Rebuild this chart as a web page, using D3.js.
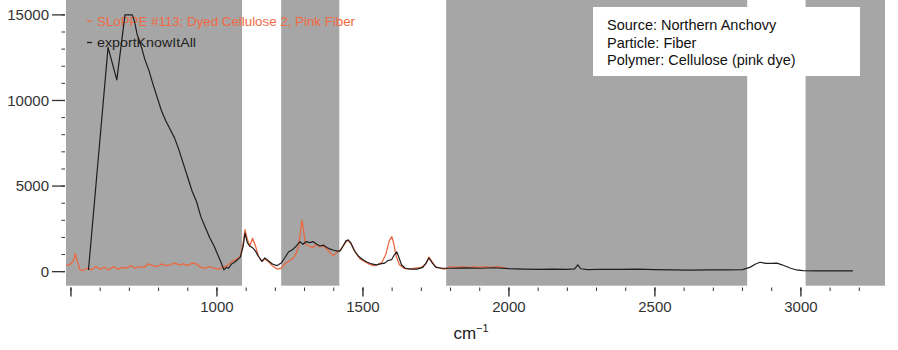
<!DOCTYPE html>
<html><head><meta charset="utf-8">
<script src="https://cdn.jsdelivr.net/npm/d3@7/dist/d3.min.js"></script>
<style>body{margin:0;background:#fff}svg{display:block}text{font-family:"Liberation Sans",Arial,sans-serif}</style>
</head><body><svg id="c" width="898" height="350"></svg>
<script>
// Spectrum 1: SLoPPE #113 (orange) — [wavenumber, intensity]
const sloppeWave = [485,500,510,515,522,530,540,555,570,585,600,615,630,645,660,675,690,705,720,735,750,765,780,795,810,825,840,855,870,885,900,915,930,945,960,975,990,1005,1020,1035,1050,1065,1080,1090,1096,1104,1112,1122,1132,1142,1154,1164,1175,1190,1205,1220,1235,1250,1262,1272,1280,1286,1291,1296,1303,1315,1328,1340,1352,1365,1378,1390,1400,1412,1425,1440,1449,1460,1475,1490,1505,1520,1535,1550,1565,1578,1590,1599,1606,1614,1625,1640,1660,1680,1700,1715,1726,1736,1748,1765,1780,1800,1820,1840,1860,1880,1900,1920,1940,1960,1975,1990];
const sloppeVal = [350,450,700,1050,600,150,50,200,100,300,150,250,100,300,150,250,200,350,200,300,250,450,350,300,450,350,400,500,400,450,350,500,450,250,200,300,200,150,250,350,600,700,900,1700,2450,1900,1500,1950,1500,900,600,750,600,350,150,200,500,650,800,1100,1500,2300,3000,2500,1600,1500,1400,1600,1450,1500,1300,1050,950,1150,1300,1700,1850,1600,1100,750,600,450,350,400,550,1000,1800,2050,1600,900,400,200,150,200,250,450,850,600,300,200,150,300,250,300,250,300,250,300,250,300,250,200];
// Spectrum 2: exportKnowItAll (black)
const knowWave = [560,627,657,685,710,718,726,740,753,768,780,795,810,825,840,855,870,885,900,915,930,945,960,975,990,1005,1015,1024,1032,1040,1050,1060,1070,1080,1090,1096,1104,1112,1122,1132,1142,1154,1164,1175,1190,1205,1220,1232,1245,1260,1272,1284,1295,1305,1318,1330,1342,1353,1365,1378,1390,1400,1412,1421,1432,1442,1449,1458,1470,1485,1500,1515,1530,1545,1560,1575,1586,1598,1608,1616,1624,1632,1645,1665,1685,1705,1716,1726,1738,1750,1770,1800,1850,1900,1950,2000,2050,2100,2150,2200,2225,2236,2246,2270,2320,2380,2440,2500,2560,2620,2680,2740,2800,2825,2845,2860,2880,2900,2918,2935,2950,2965,2985,3007,3060,3120,3178];
const knowVal = [100,13100,11200,15000,15000,14600,13900,13200,12400,11700,11000,10200,9400,8800,8300,7800,7100,6300,5500,4700,4100,3200,2600,2000,1500,900,500,100,250,200,450,550,700,850,1500,2250,1700,1500,1400,1200,900,600,800,650,450,350,500,800,1150,1300,1500,1750,1600,1750,1700,1750,1600,1500,1550,1400,1300,1250,1200,1200,1500,1800,1850,1700,1250,900,700,550,450,400,450,500,650,700,1000,1150,800,400,200,150,150,250,500,800,500,250,200,200,220,200,230,180,150,130,150,130,160,400,170,120,140,130,150,120,100,90,100,100,120,250,450,550,480,480,500,400,300,200,100,60,50,50,50];
// shaded spectral regions (cm^-1)
const bandStart = [483,1220,1785,3016];
const bandEnd   = [1086,1419,2816,3288];
const yMajor = [0,5000,10000,15000];
const xMajor = [500,1000,1500,2000,2500,3000];
const xLabels = ["","1000","1500","2000","2500","3000"];
const legendNames = ["SLoPPE #113; Dyed Cellulose 2, Pink Fiber","exportKnowItAll"];
const infoLines = ["Source: Northern Anchovy","Particle: Fiber","Polymer: Cellulose (pink dye)"];

const svg = d3.select("#c");
const x = d3.scaleLinear().domain([483,3288]).range([66,885]);
const y = d3.scaleLinear().domain([-820,15870]).range([285.7,0]);
const orange = "#ec6840", black = "#1e1e1e", gray = "#a6a6a6";

svg.selectAll("rect.band").data(bandStart).join("rect").attr("class","band")
  .attr("x",(d)=>x(d)).attr("width",(d,i)=>x(bandEnd[i])-x(d))
  .attr("y",0).attr("height",y(-820)).attr("fill",gray);

// y ticks
const yMinor = d3.range(-0,16000,1000);
svg.selectAll("line.ym").data(yMinor).join("line")
  .attr("x1",61.5).attr("x2",65).attr("y1",d=>y(d)).attr("y2",d=>y(d))
  .attr("stroke","#333").attr("stroke-width",1);
svg.selectAll("line.yM").data(yMajor).join("line")
  .attr("x1",52).attr("x2",65).attr("y1",d=>y(d)).attr("y2",d=>y(d))
  .attr("stroke","#333").attr("stroke-width",1.3);
svg.selectAll("text.yl").data(yMajor).join("text")
  .attr("x",49).attr("y",d=>y(d)+5.3).attr("text-anchor","end")
  .attr("font-size",15).attr("fill","#333").text(d=>d);

// x ticks
const xMinor = d3.range(500,3300,100);
svg.selectAll("line.xm").data(xMinor).join("line")
  .attr("x1",d=>x(d)).attr("x2",d=>x(d)).attr("y1",287.5).attr("y2",291)
  .attr("stroke","#333").attr("stroke-width",1);
svg.selectAll("line.xM").data(xMajor).join("line")
  .attr("x1",d=>x(d)).attr("x2",d=>x(d)).attr("y1",287.5).attr("y2",296.5)
  .attr("stroke","#333").attr("stroke-width",1.4);
svg.selectAll("text.xl").data(xMajor).join("text")
  .attr("x",d=>x(d)).attr("y",312).attr("text-anchor","middle")
  .attr("font-size",15).attr("fill","#333").text((d,i)=>xLabels[i]);
const t = svg.append("text").attr("x",471).attr("y",339).attr("text-anchor","middle")
  .attr("font-size",17).attr("fill","#222");
t.append("tspan").text("cm");
t.append("tspan").attr("font-size",11).attr("dy",-7).text("−1");

// legend
const legColors = [orange, black], legLen = [258, 99];
legendNames.forEach((n,i)=>{
  const ly = 21 + i*21.5;
  svg.append("line").attr("x1",87).attr("x2",92).attr("y1",ly).attr("y2",ly)
    .attr("stroke",legColors[i]).attr("stroke-width",1.3);
  svg.append("text").attr("x",97).attr("y",ly+4.8).attr("font-size",13)
    .attr("fill",i===0?"#f26a43":"#222").attr("textLength",legLen[i])
    .attr("lengthAdjust","spacingAndGlyphs").text(n);
});

// curves
const line = d3.line().x(d=>x(d[0])).y(d=>y(d[1]));
svg.append("path").datum(sloppeWave.map((w,i)=>[w,sloppeVal[i]]))
  .attr("d",line).attr("fill","none").attr("stroke",orange).attr("stroke-width",1.3).attr("stroke-linejoin","round");
svg.append("path").datum(knowWave.map((w,i)=>[w,knowVal[i]]))
  .attr("d",line).attr("fill","none").attr("stroke",black).attr("stroke-width",1.2).attr("stroke-linejoin","round");

// info box
svg.append("rect").attr("x",593).attr("y",7).attr("width",267).attr("height",69).attr("fill","#fff");
svg.selectAll("text.info").data(infoLines).join("text")
  .attr("x",607).attr("y",(d,i)=>30+i*17.5).attr("font-size",14.5).attr("fill","#111").text(d=>d);
</script></body></html>
